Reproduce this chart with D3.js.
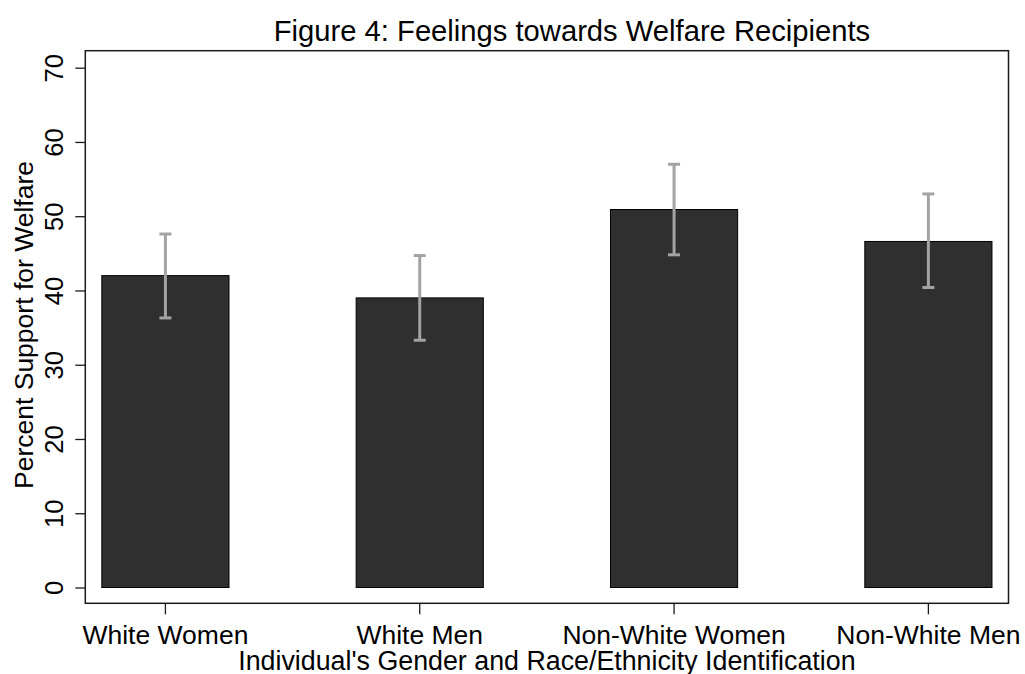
<!DOCTYPE html>
<html>
<head>
<meta charset="utf-8">
<script src="https://cdn.jsdelivr.net/npm/d3@7"></script>
<style>
html,body{margin:0;padding:0;background:#fff;}
svg{display:block;font-family:"Liberation Sans",Arial,sans-serif;}
</style>
</head>
<body>
<svg id="chart" width="1025" height="674"></svg>
<script>
const categories = ["White Women", "White Men", "Non-White Women", "Non-White Men"];
const values = [42.0, 39.0, 50.9, 46.6];
const ciLower = [36.3, 33.3, 44.8, 40.4];
const ciUpper = [47.6, 44.7, 57.0, 53.0];
const yTicks = [0, 10, 20, 30, 40, 50, 60, 70];
const titleText = "Figure 4: Feelings towards Welfare Recipients";
const xTitle = "Individual's Gender and Race/Ethnicity Identification";
const yTitle = "Percent Support for Welfare";

const svg = d3.select("#chart");
const frame = {left: 85.3, right: 1008.5, top: 50.7, bottom: 603.3};

const y = d3.scaleLinear().domain([0, 70]).range([587.5, 67.7]);
const x = d3.scaleBand().domain(categories).range([frame.left, frame.right])
  .paddingInner(0.5).paddingOuter(0.065);

// frame
svg.append("rect")
  .attr("x", frame.left).attr("y", frame.top)
  .attr("width", frame.right - frame.left).attr("height", frame.bottom - frame.top)
  .attr("fill", "none").attr("stroke", "#1a1a1a").attr("stroke-width", 1.5);

// bars
const data = categories.map((c, i) => ({c, v: values[i], lo: ciLower[i], hi: ciUpper[i]}));
svg.append("g").selectAll("rect").data(data).join("rect")
  .attr("x", d => x(d.c)).attr("y", d => y(d.v))
  .attr("width", x.bandwidth()).attr("height", d => y(0) - y(d.v))
  .attr("fill", "#2f2f2f").attr("stroke", "#000").attr("stroke-width", 1);

// error bars
const eb = svg.append("g").attr("stroke", "#a3a3a3").attr("stroke-width", 3);
data.forEach(d => {
  const cx = x(d.c) + x.bandwidth() / 2;
  eb.append("line").attr("x1", cx).attr("x2", cx).attr("y1", y(d.hi)).attr("y2", y(d.lo));
  eb.append("line").attr("x1", cx - 6).attr("x2", cx + 6).attr("y1", y(d.hi)).attr("y2", y(d.hi));
  eb.append("line").attr("x1", cx - 6).attr("x2", cx + 6).attr("y1", y(d.lo)).attr("y2", y(d.lo));
});

// y axis
const yAxis = svg.append("g").attr("transform", `translate(${frame.left},0)`)
  .call(d3.axisLeft(y).tickValues(yTicks).tickSize(10).tickPadding(0));
yAxis.select(".domain").remove();
yAxis.selectAll(".tick line").attr("stroke", "#1a1a1a").attr("stroke-width", 1.3);
yAxis.selectAll(".tick text").remove();
yAxis.selectAll(".tick").append("text")
  .attr("transform", "translate(-22,0) rotate(-90)")
  .attr("text-anchor", "middle").attr("fill", "#000")
  .attr("font-size", 25.5).attr("font-family", "Liberation Sans, Arial, sans-serif")
  .text(d => d);

// x axis
const xAxis = svg.append("g").attr("transform", `translate(0,${frame.bottom})`)
  .call(d3.axisBottom(x).tickSize(11).tickPadding(0));
xAxis.select(".domain").remove();
xAxis.selectAll(".tick line").attr("stroke", "#1a1a1a").attr("stroke-width", 1.3);
xAxis.selectAll(".tick text").attr("dy", null).attr("y", 40.5)
  .attr("fill", "#000").attr("font-size", 26.5)
  .attr("font-family", "Liberation Sans, Arial, sans-serif");

// titles
svg.append("text").attr("x", 572).attr("y", 41).attr("text-anchor", "middle")
  .attr("font-size", 29.2).attr("fill", "#000").text(titleText);
svg.append("text").attr("x", (frame.left + frame.right) / 2).attr("y", 669.5)
  .attr("text-anchor", "middle").attr("font-size", 26.8).attr("fill", "#000").text(xTitle);
svg.append("text").attr("transform", `translate(33,${(frame.top + frame.bottom) / 2 - 2}) rotate(-90)`)
  .attr("text-anchor", "middle").attr("font-size", 26.5).attr("fill", "#000").text(yTitle);
</script>
</body>
</html>
